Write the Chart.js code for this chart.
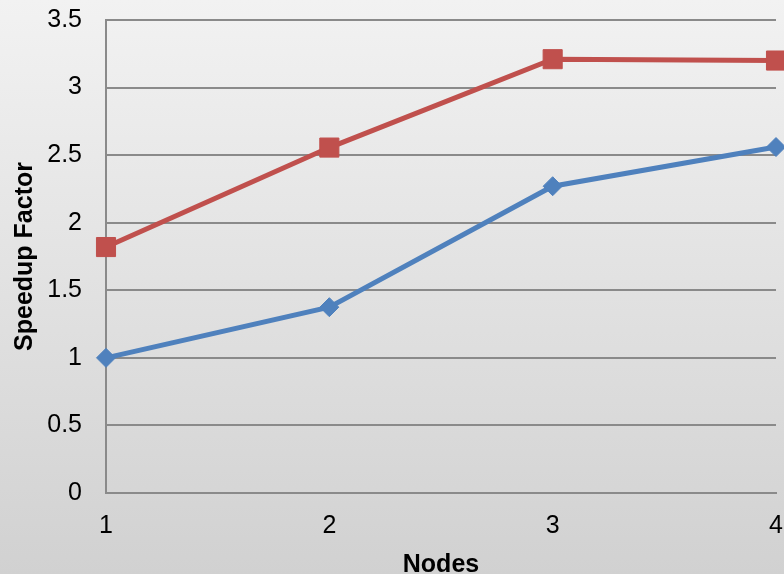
<!DOCTYPE html>
<html>
<head>
<meta charset="utf-8">
<script src="https://cdn.jsdelivr.net/npm/chart.js@4/dist/chart.umd.min.js"></script>
<style>
  html, body { margin: 0; padding: 0; }
  body { width: 784px; height: 574px; background: linear-gradient(to bottom, #f2f2f2 0%, #d1d1d1 100%); }
  #wrap { position: relative; width: 784px; height: 574px; }
</style>
</head>
<body>
<div id="wrap"><canvas id="c" width="784" height="574"></canvas></div>
<script>
// Node counts on the x axis
const nodes = ['1', '2', '3', '4'];
// Speedup measured for each configuration
const speedupBlue = [1.0, 1.375, 2.27, 2.56];
const speedupRed = [1.82, 2.556, 3.21, 3.20];
// y axis range
const yMin = 0;
const yMax = 3.5;
const yStep = 0.5;

const tickFont = { family: 'Liberation Sans, Arial, sans-serif', size: 25 };
const titleFont = { family: 'Liberation Sans, Arial, sans-serif', size: 25, weight: 'bold', lineHeight: 0.7 };
const gridGray = '#8a8a8a';

// label overhang is handled by the layout padding instead
function noOverhang(s) {
  s.paddingTop = 0; s.paddingBottom = 0; s.paddingLeft = 0; s.paddingRight = 0;
}

new Chart(document.getElementById('c'), {
  type: 'line',
  data: {
    labels: nodes,
    datasets: [
      {
        data: speedupRed,
        borderColor: '#c0504d',
        backgroundColor: '#c0504d',
        borderWidth: 5,
        pointStyle: 'rect',
        pointRadius: 13.5,
        pointBorderWidth: 1,
        tension: 0,
        clip: false
      },
      {
        data: speedupBlue,
        borderColor: '#4f81bd',
        backgroundColor: '#4f81bd',
        borderWidth: 5,
        pointStyle: 'rectRot',
        pointRadius: 9.5,
        pointBorderWidth: 1,
        tension: 0,
        clip: false
      }
    ]
  },
  options: {
    responsive: false,
    animation: false,
    events: [],
    layout: { autoPadding: false, padding: { top: 20, right: 8, left: 0, bottom: 0 } },
    plugins: { legend: { display: false }, tooltip: { enabled: false } },
    scales: {
      x: {
        type: 'category',
        offset: false,
        grid: { display: false, drawTicks: false },
        border: { display: true, color: gridGray, width: 2 },
        ticks: { color: '#000', font: tickFont, padding: 18, maxRotation: 0 },
        title: { display: true, text: 'Nodes', color: '#000', font: titleFont, padding: { top: 0, bottom: 0 } },
        afterFit: (s) => { s.height = 81; noOverhang(s); }
      },
      y: {
        min: yMin,
        max: yMax,
        grid: { color: gridGray, lineWidth: 2, drawTicks: false },
        border: { display: true, color: gridGray, width: 2 },
        ticks: {
          stepSize: yStep, color: '#000', font: tickFont, padding: 24,
          callback: (v) => String(Number(v.toFixed(1)))
        },
        title: {
          display: true, text: 'Speedup Factor', color: '#000',
          font: { family: 'Liberation Sans, Arial, sans-serif', size: 25, weight: 'bold', lineHeight: 1.2 },
          padding: { top: 10, bottom: 0 }
        },
        afterFit: (s) => { s.width = 106; noOverhang(s); }
      }
    }
  }
});
</script>
</body>
</html>
